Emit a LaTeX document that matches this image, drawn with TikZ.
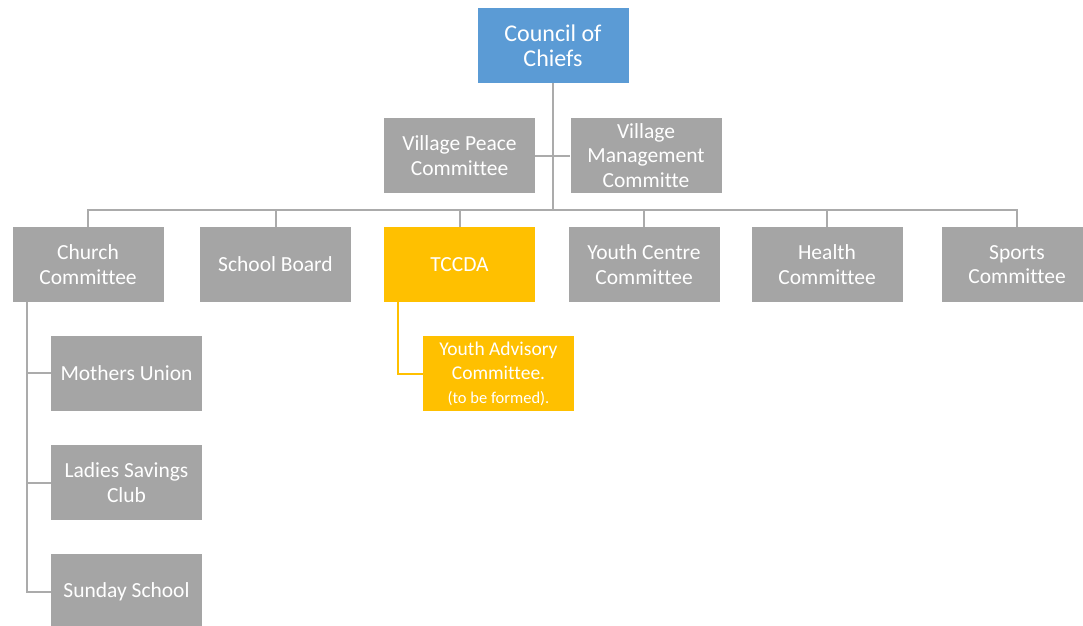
\documentclass[tikz,border=0pt]{standalone}
\usepackage{fontspec}
\setmainfont[Ligatures=CommonOff]{Carlito}
\definecolor{chiefblue}{HTML}{5B9BD5}
\definecolor{boxgray}{HTML}{A5A5A5}
\definecolor{linegray}{HTML}{ABABAB}
\definecolor{gold}{HTML}{FFC000}
\begin{document}
\begin{tikzpicture}[x=1pt,y=-1pt,
  unit/.style={rectangle, fill=boxgray, text=white, align=center, inner sep=0pt,
    minimum width=151pt, minimum height=75pt, font=\fontsize{21.5}{24.5}\selectfont},
  chief/.style={unit, fill=chiefblue, font=\fontsize{24}{25.5}\selectfont},
  youth/.style={unit, fill=gold},
  link/.style={draw=linegray, line width=2pt},
  goldlink/.style={draw=gold, line width=2pt}]
\useasboundingbox (0,0) rectangle (1083,625);
\clip (0,0) rectangle (1083,625);

% top of the organisation
\node[chief] (council) at (553,45.5) {Council of\\Chiefs};
\node[unit] (vpc) at (459.5,155.5) {Village Peace\\Committee};
\node[unit] (vmc) at (646,155.5) {Village\\Management\\Committe};

% committees reporting to the council
\node[unit] (church) at (88,264.5) {Church\\Committee};
\node[unit] (school) at (275.5,264.5) {School Board};
\node[youth] (tccda) at (459.5,264.5) {TCCDA};
\node[unit] (ycc) at (644,264.5) {Youth Centre\\Committee};
\node[unit] (health) at (827,264.5) {Health\\Committee};
\node[unit] (sports) at (1017,264.5) {Sports\\Committee};

% groups under the church committee
\node[unit] (mothers) at (126.5,373) {Mothers Union};
\node[unit] (ladies) at (126.5,482.5) {Ladies Savings\\Club};
\node[unit] (sunday) at (126.5,591.5) {Sunday School};

% group to be formed under TCCDA
\node[youth] (yac) at (498.5,373.5)
  {\fontsize{19.5}{25}\selectfont Youth Advisory\\\fontsize{19.5}{25}\selectfont Committee.\\[-1pt]\fontsize{16.5}{20}\selectfont (to be formed).};

\coordinate (bus) at (553,210);
\coordinate (spine) at (27,0);
\coordinate (goldspine) at (398,0);

% connectors
\draw[link] (council.south) -- (bus);
\draw[link] (vpc.east) -- (vmc.west);
\draw[link] (church.north) -- (church.north |- bus) -| (sports.north);
\foreach \n in {school,tccda,ycc,health}
  \draw[link] (\n.north) -- (\n.north |- bus);
\draw[link] (church.south -| spine) |- (sunday.west);
\draw[link] (mothers.west) -- (mothers.west -| spine);
\draw[link] (ladies.west) -- (ladies.west -| spine);
\draw[goldlink] (tccda.south -| goldspine) |- (yac.west);
\end{tikzpicture}
\end{document}
